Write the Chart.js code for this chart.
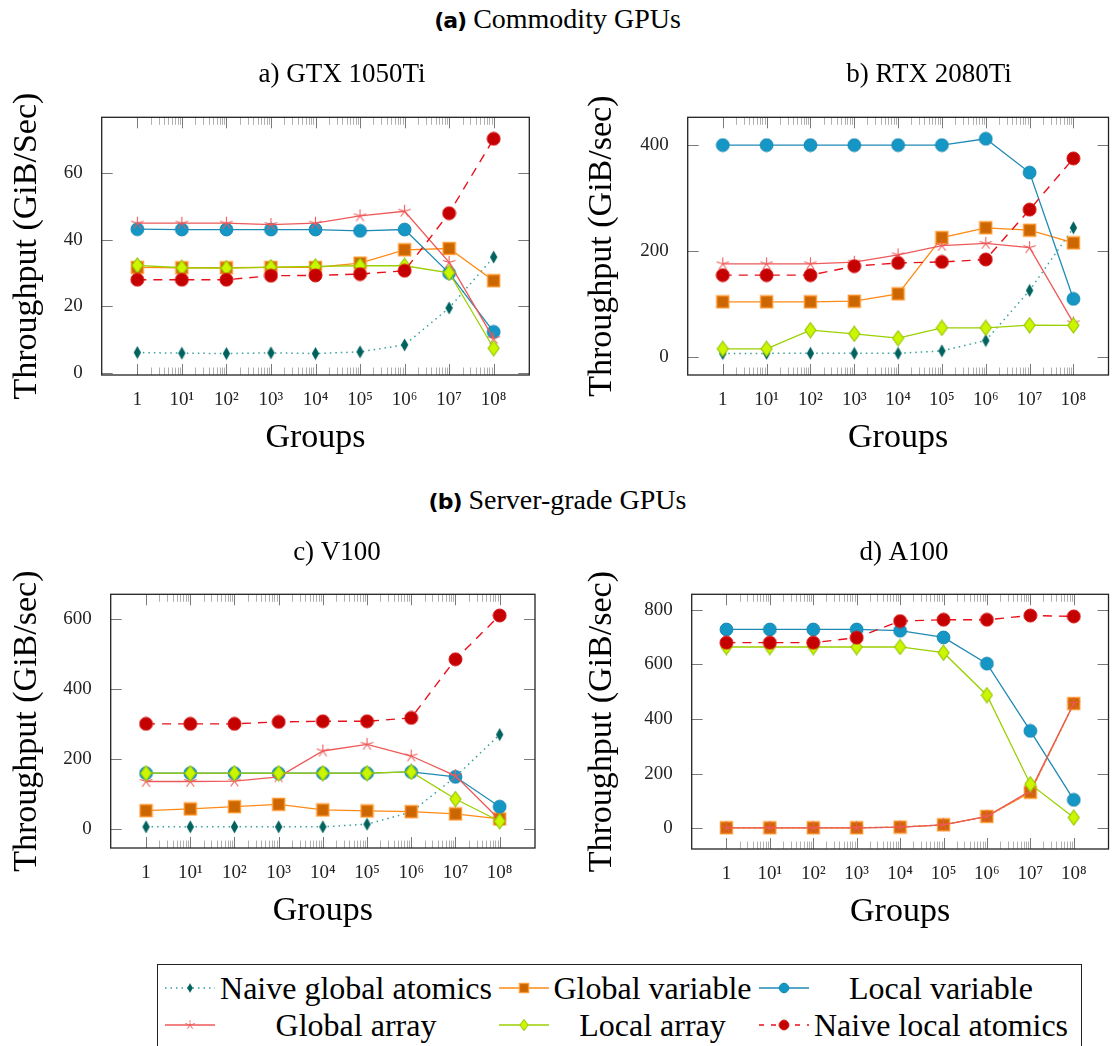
<!DOCTYPE html>
<html><head><meta charset="utf-8">
<script src="https://cdn.jsdelivr.net/npm/chart.js@4.4.1/dist/chart.umd.min.js"></script>
<style>
html,body{margin:0;padding:0;background:#fff;width:1115px;height:1046px;overflow:hidden;position:relative;}
canvas.cv{position:absolute;}
.hdr{position:absolute;left:0;width:1115px;text-align:center;font-family:'Liberation Serif',serif;font-size:28px;color:#000;white-space:nowrap;}
.hdr b{font-family:'DejaVu Sans',sans-serif;font-weight:bold;font-size:22px;letter-spacing:-1px;}
#legend{position:absolute;left:157px;top:964px;width:923px;height:110px;border:1.3px solid #222;}
.lgIcon{position:absolute;}
.lgText{position:absolute;font-family:'Liberation Serif',serif;font-size:32px;color:#000;text-align:center;white-space:nowrap;line-height:36px;}
</style>
</head><body>
<div class="hdr" style="top:3px;"><b>(a)</b> Commodity GPUs</div>
<div class="hdr" style="top:484px;"><b>(b)</b> Server-grade GPUs</div>
<canvas id="cA" class="cv" width="557" height="410" style="left:0;top:55px;"></canvas>
<canvas id="cB" class="cv" width="541" height="410" style="left:575px;top:55px;"></canvas>
<canvas id="cC" class="cv" width="557" height="408" style="left:0;top:530px;"></canvas>
<canvas id="cD" class="cv" width="541" height="409" style="left:575px;top:530px;"></canvas>
<div id="legend"></div>
<script>
// ---------- data ----------
const groupExponents = [0,1,2,3,4,5,6,7,8];
const groupTickLabels = ['1','10\u00B9','10\u00B2','10\u00B3','10\u2074','10\u2075','10\u2076','10\u2077','10\u2078'];
const seriesNames = ['Naive global atomics','Global variable','Local variable','Global array','Local array','Naive local atomics'];

// a) GTX 1050Ti
const gtxNaiveGlobal = [6.1,5.9,5.8,6.0,5.8,6.3,8.4,19.5,34.8];
const gtxGlobalVar   = [31.7,31.6,31.6,31.7,31.7,33.0,37.0,37.4,27.7];
const gtxLocalVar    = [43.2,43.1,43.1,43.1,43.1,42.7,43.1,30.0,12.3];
const gtxGlobalArr   = [45.0,45.0,45.0,44.6,45.0,47.2,48.6,33.2,10.3];
const gtxLocalArr    = [32.3,31.6,31.5,31.8,32.0,32.2,32.2,30.1,7.4];
const gtxNaiveLocal  = [28.0,28.0,28.0,29.2,29.3,29.7,30.7,48.0,70.4];
const gtxYTicks = [0,20,40,60];

// b) RTX 2080Ti
const rtxNaiveGlobal = [5.7,6,6,6,6,10.7,30.3,125,243.6];
const rtxGlobalVar   = [103.5,103.5,103.5,104.7,118.6,225,243.6,239,215];
const rtxLocalVar    = [400,400,400,400,400,400,412,348,109];
const rtxGlobalArr   = [175.4,175.4,175.4,178.5,192.4,210,214,206,63.7];
const rtxLocalArr    = [14.5,14.5,50,43,34.7,54.3,54.3,59.3,59];
const rtxNaiveLocal  = [154,154,154,171,177,179,183.6,278,374.8];
const rtxYTicks = [0,200,400];

// c) V100
const v100NaiveGlobal = [4.8,4.8,4.8,4.8,4.8,12.4,47,148,269];
const v100GlobalVar   = [51.2,56,62.6,69.3,53.2,50.3,48.4,41.8,27.6];
const v100LocalVar    = [158.4,158.4,158.4,158.4,158.4,158.4,162,148,62.6];
const v100GlobalArr   = [134.7,134.7,135.6,148,222,241,207.6,150.8,25];
const v100LocalArr    = [158.4,158.4,158.4,158.4,158.4,158.4,162,84.4,20.9];
const v100NaiveLocal  = [299.6,299.6,299.6,305.3,307,307,316.7,484.5,610];
const v100YTicks = [0,200,400,600];

// d) A100
const a100NaiveGlobal = [2.5,2.5,2.5,2.5,5,13.4,44,132.6,457];
const a100GlobalVar   = [2.5,2.5,2.5,2.5,5,13.4,44,132.6,457];
const a100LocalVar    = [728,728,728,728,723.4,699,603,357,104.7];
const a100GlobalArr   = [2.5,2.5,2.5,2.5,5,13.4,44,138,457];
const a100LocalArr    = [663.8,663.8,663.8,663.8,664,643,487.6,162,40];
const a100NaiveLocal  = [679.8,679.8,679.8,698,758.6,763.6,763.6,779,775.7];
const a100YTicks = [0,200,400,600,800];

// ---------- styles ----------
const SERIF = "'Liberation Serif', serif";
function mk(w,h,draw){const c=document.createElement('canvas');c.width=w;c.height=h;draw(c.getContext('2d'));return c;}
const markers = [
  mk(9,14,g=>{g.beginPath();g.moveTo(4.5,0.5);g.lineTo(8.2,7);g.lineTo(4.5,13.5);g.lineTo(0.8,7);g.closePath();g.fillStyle='#00625e';g.fill();}),
  mk(15,15,g=>{g.fillStyle='#cc6600';g.fillRect(1.5,1.5,12,12);g.strokeStyle='#ff9a33';g.lineWidth=1.4;g.strokeRect(1.5,1.5,12,12);}),
  mk(15,15,g=>{g.beginPath();g.arc(7.5,7.5,6.4,0,Math.PI*2);g.fillStyle='#1597c5';g.fill();g.strokeStyle='#1687b3';g.lineWidth=1;g.stroke();}),
  mk(15,15,g=>{g.strokeStyle='#ee5a5a';g.lineWidth=1.1;g.beginPath();for(let k=0;k<5;k++){const a=-Math.PI/2+k*2*Math.PI/5;g.moveTo(7.5,7.5);g.lineTo(7.5+6.5*Math.cos(a),7.5+6.5*Math.sin(a));}g.stroke();}),
  mk(13,17,g=>{g.beginPath();g.moveTo(6.5,1);g.lineTo(12,8.5);g.lineTo(6.5,16);g.lineTo(1,8.5);g.closePath();g.fillStyle='#ccf500';g.fill();g.strokeStyle='#93c400';g.lineWidth=1.1;g.stroke();}),
  mk(15,15,g=>{g.beginPath();g.arc(7.5,7.5,6.5,0,Math.PI*2);g.fillStyle='#c40000';g.fill();g.strokeStyle='#d81414';g.lineWidth=1;g.stroke();})
];
const lineColors = ['#37a19d','#ff8a14','#1f8bb5','#ee5a5a','#9bd000','#e8101a'];
const lineDashes = [[1.5,4],[],[],[],[],[9,7]];
const lineWidths = [1.5,1.3,1.3,1.3,1.3,1.4];

// ---------- frame / ticks plugin ----------
const framePlugin = {
  id:'pgfFrame',
  beforeDatasetsDraw(chart){
    const ctx=chart.ctx, ca=chart.chartArea, xs=chart.scales.x, ys=chart.scales.y;
    ctx.save();
    ctx.lineWidth=0.8; ctx.strokeStyle='#9c9c9c';
    ctx.beginPath();
    for(let d=0; d<groupExponents.length-1; d++){
      for(let k=2;k<10;k++){
        const px=Math.round(xs.getPixelForValue(groupExponents[d]+Math.log10(k)))+0.5;
        ctx.moveTo(px,ca.top); ctx.lineTo(px,ca.top+7.5);
        ctx.moveTo(px,ca.bottom); ctx.lineTo(px,ca.bottom-7.5);
      }
    }
    ctx.stroke();
    ctx.lineWidth=1; ctx.strokeStyle='#7a7a7a';
    ctx.beginPath();
    groupExponents.forEach(v=>{
      const px=Math.round(xs.getPixelForValue(v))+0.5;
      ctx.moveTo(px,ca.top); ctx.lineTo(px,ca.top+11);
      ctx.moveTo(px,ca.bottom); ctx.lineTo(px,ca.bottom-11);
    });
    ys.ticks.forEach(t=>{
      const py=Math.round(ys.getPixelForValue(t.value))+0.5;
      ctx.moveTo(ca.left,py); ctx.lineTo(ca.left+11,py);
      ctx.moveTo(ca.right,py); ctx.lineTo(ca.right-11,py);
    });
    ctx.stroke();
    ctx.lineWidth=1.3; ctx.strokeStyle='#222';
    ctx.strokeRect(ca.left,ca.top,ca.right-ca.left,ca.bottom-ca.top);
    ctx.restore();
  }
};
// subplot title drawn at a chosen spot of the canvas
const subTitlePlugin = {
  id:'subTitle',
  afterDraw(chart, args, opts){
    const ctx=chart.ctx;
    ctx.save();
    ctx.font='27px '+SERIF; ctx.fillStyle='#000';
    ctx.textAlign='center'; ctx.textBaseline='middle';
    ctx.fillText(opts.text, opts.x, opts.y);
    ctx.restore();
  }
};

function makeChart(id, cfg){
  const all=[].concat(...cfg.series);
  const mn=Math.min(...all), mx=Math.max(...all), rg=mx-mn;
  const datasets = cfg.series.map((vals,i)=>({
    label: seriesNames[i],
    data: groupExponents.map((e,j)=>({x:e,y:vals[j]})),
    borderColor: lineColors[i], backgroundColor: lineColors[i],
    borderWidth: lineWidths[i], borderDash: lineDashes[i],
    pointStyle: markers[i], pointRadius: 6, pointHoverRadius: 6,
    fill:false, tension:0, order: 6-i
  }));
  return new Chart(document.getElementById(id), {
    type:'line',
    data:{datasets},
    plugins:[framePlugin, subTitlePlugin],
    options:{
      responsive:false, animation:false, devicePixelRatio:1,
      layout:{padding:{top:cfg.padTop,left:0,bottom:0,right:cfg.padRight}},
      plugins:{
        legend:{display:false}, tooltip:{enabled:false}, title:{display:false},
        subTitle:{text:cfg.title, x:cfg.titleX, y:cfg.titleY}
      },
      scales:{
        x:{type:'linear', min:-0.8, max:8.8,
          afterBuildTicks:s=>{s.ticks=groupExponents.map(v=>({value:v}));},
          ticks:{callback:v=>groupTickLabels[groupExponents.indexOf(v)], color:'#222',
            font:{family:SERIF,size:19}, padding:6, autoSkip:false, maxRotation:0},
          grid:{display:false}, border:{display:false},
          title:{display:true,text:'Groups',color:'#000',font:{family:SERIF,size:34,lineHeight:1.2},padding:{top:0,bottom:6.6}},
          afterFit:s=>{s.height=90;}
        },
        y:{type:'linear', min:mn-0.1*rg, max:mx+0.1*rg,
          afterBuildTicks:s=>{s.ticks=cfg.yTicks.map(v=>({value:v}));},
          ticks:{callback:v=>String(v), color:'#222', font:{family:SERIF,size:19}, padding:11},
          grid:{display:false}, border:{display:false},
          title:{display:true,text:cfg.yTitle,color:'#000',font:{family:SERIF,size:34,lineHeight:1.2},padding:{top:6.5,bottom:0}},
          afterFit:s=>{s.width=cfg.yWidth;}
        }
      }
    }
  });
}

makeChart('cA',{title:'a) GTX 1050Ti', yTitle:'Throughput (GiB/Sec)', yTicks:gtxYTicks,
  series:[gtxNaiveGlobal,gtxGlobalVar,gtxLocalVar,gtxGlobalArr,gtxLocalArr,gtxNaiveLocal],
  padTop:62.3, titleX:342, titleY:20, yWidth:101.7, padRight:27.7});
makeChart('cB',{title:'b) RTX 2080Ti', yTitle:'Throughput (GiB/sec)', yTicks:rtxYTicks,
  series:[rtxNaiveGlobal,rtxGlobalVar,rtxLocalVar,rtxGlobalArr,rtxLocalArr,rtxNaiveLocal],
  padTop:62.3, titleX:354, titleY:20, yWidth:112.7, padRight:0});
makeChart('cC',{title:'c) V100', yTitle:'Throughput (GiB/sec)', yTicks:v100YTicks,
  series:[v100NaiveGlobal,v100GlobalVar,v100LocalVar,v100GlobalArr,v100LocalArr,v100NaiveLocal],
  padTop:64.3, titleX:337, titleY:23, yWidth:110.7, padRight:22});
makeChart('cD',{title:'d) A100', yTitle:'Throughput (GiB/sec)', yTicks:a100YTicks,
  series:[a100NaiveGlobal,a100GlobalVar,a100LocalVar,a100GlobalArr,a100LocalArr,a100NaiveLocal],
  padTop:64.3, titleX:329, titleY:23, yWidth:116.7, padRight:0});

// ---------- legend ----------
(function(){
  const lg=document.getElementById('legend');
  const cols=[{icon:6,tx:59,tw:278},{icon:340,tx:393,tw:203},{icon:600,tx:653,tw:260}];
  const rows=[5,42];
  seriesNames.forEach((name,i)=>{
    const col=cols[i%3], row=rows[Math.floor(i/3)];
    const ic=document.createElement('canvas'); ic.className='lgIcon'; ic.width=52; ic.height=20;
    ic.style.left=col.icon+'px'; ic.style.top=(row+8)+'px';
    const g=ic.getContext('2d');
    g.strokeStyle=lineColors[i]; g.lineWidth=lineWidths[i]; g.setLineDash(i===5?[5,7]:lineDashes[i]);
    g.beginPath(); g.moveTo(1,10); g.lineTo(51,10); g.stroke();
    const m=markers[i], s=0.75;
    g.drawImage(m,26-m.width*s/2,10-m.height*s/2,m.width*s,m.height*s);
    lg.appendChild(ic);
    const t=document.createElement('div'); t.className='lgText'; t.textContent=name;
    t.style.left=col.tx+'px'; t.style.width=col.tw+'px'; t.style.top=row+'px';
    lg.appendChild(t);
  });
})();
</script>
</body></html>
